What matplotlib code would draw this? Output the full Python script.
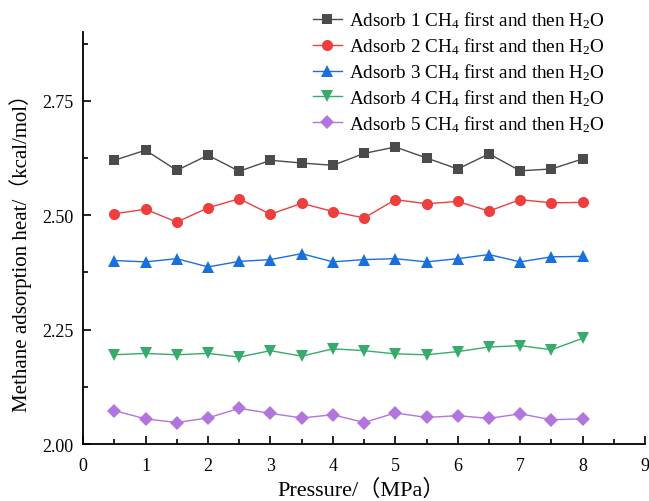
import matplotlib
matplotlib.use("Agg")
import matplotlib.pyplot as plt
from matplotlib.ticker import MultipleLocator

pressure = [0.5, 1, 1.5, 2, 2.5, 3, 3.5, 4, 4.5, 5, 5.5, 6, 6.5, 7, 7.5, 8]
s1 = [2.620, 2.642, 2.598, 2.631, 2.596, 2.620, 2.614, 2.609, 2.635, 2.649, 2.625, 2.601, 2.634, 2.597, 2.601, 2.623]
s2 = [2.503, 2.513, 2.485, 2.516, 2.536, 2.502, 2.526, 2.508, 2.494, 2.534, 2.525, 2.530, 2.509, 2.534, 2.527, 2.528]
s3 = [2.401, 2.398, 2.405, 2.387, 2.399, 2.403, 2.416, 2.398, 2.403, 2.405, 2.398, 2.405, 2.414, 2.398, 2.409, 2.410]
s4 = [2.195, 2.198, 2.195, 2.198, 2.190, 2.204, 2.192, 2.208, 2.204, 2.197, 2.195, 2.202, 2.212, 2.215, 2.206, 2.231]
s5 = [2.073, 2.055, 2.047, 2.057, 2.078, 2.067, 2.057, 2.064, 2.047, 2.068, 2.058, 2.062, 2.056, 2.066, 2.053, 2.055]
labels = [r"Adsorb %d CH$_4$ first and then H$_2$O" % i for i in range(1, 6)]

plt.rcParams['font.family'] = ['Liberation Serif', 'Noto Sans CJK SC']
plt.rcParams['mathtext.fontset'] = 'custom'
plt.rcParams['mathtext.rm'] = 'Liberation Serif'
plt.rcParams['mathtext.it'] = 'Liberation Serif:italic'
plt.rcParams['mathtext.default'] = 'rm'

fig = plt.figure(figsize=(6.49, 5.02), dpi=100)
ax = fig.add_axes([0.128, 0.1135, 0.866, 0.8205])

series = [s1, s2, s3, s4, s5]
colors = ['#4b4b4b', '#ee3e3e', '#1a6fdf', '#36ab6b', '#b275de']
markers = ['s', 'o', '^', 'v', 'D']
msizes = [7.5, 8, 8, 8, 7]
for ys, c, m, ms, lab in zip(series, colors, markers, msizes, labels):
    ax.plot(pressure, ys, color=c, marker=m, markersize=ms, linewidth=1.0,
            label=lab, markeredgewidth=0)

ax.set_xlim(0, 9)
ax.set_ylim(2.0, 2.9)
ax.xaxis.set_major_locator(MultipleLocator(1))
ax.xaxis.set_minor_locator(MultipleLocator(0.5))
ax.set_yticks([2.00, 2.25, 2.50, 2.75])
ax.set_yticklabels(['2.00', '2.25', '2.50', '2.75'])
ax.yaxis.set_minor_locator(MultipleLocator(0.125))
ax.tick_params(axis='both', which='major', direction='in', length=6, width=1.2, labelsize=13)
ax.tick_params(axis='x', which='major', pad=9)
ax.tick_params(axis='y', which='major', pad=7)
ax.tick_params(axis='both', which='minor', direction='in', length=3.5, width=1.2)
ax.spines['top'].set_visible(False)
ax.spines['right'].set_visible(False)
ax.spines['left'].set_linewidth(1.3)
ax.spines['bottom'].set_linewidth(1.3)

ax.set_xlabel("Pressure/（MPa）", fontsize=16)
ax.set_ylabel("Methane adsorption heat/（kcal/mol）", fontsize=15)
ax.xaxis.set_label_coords(0.495, -0.111)
ax.xaxis.label.set_va('center')
ax.yaxis.set_label_coords(-0.112, 0.478)
ax.yaxis.label.set_va('center')

ax.legend(loc='upper left', bbox_to_anchor=(0.482, 0.979), bbox_transform=fig.transFigure,
          frameon=False, fontsize=13.8, handlelength=1.5, labelspacing=0.27,
          handletextpad=0.4, borderaxespad=0, borderpad=0)

fig.savefig("out.png", dpi=100)
